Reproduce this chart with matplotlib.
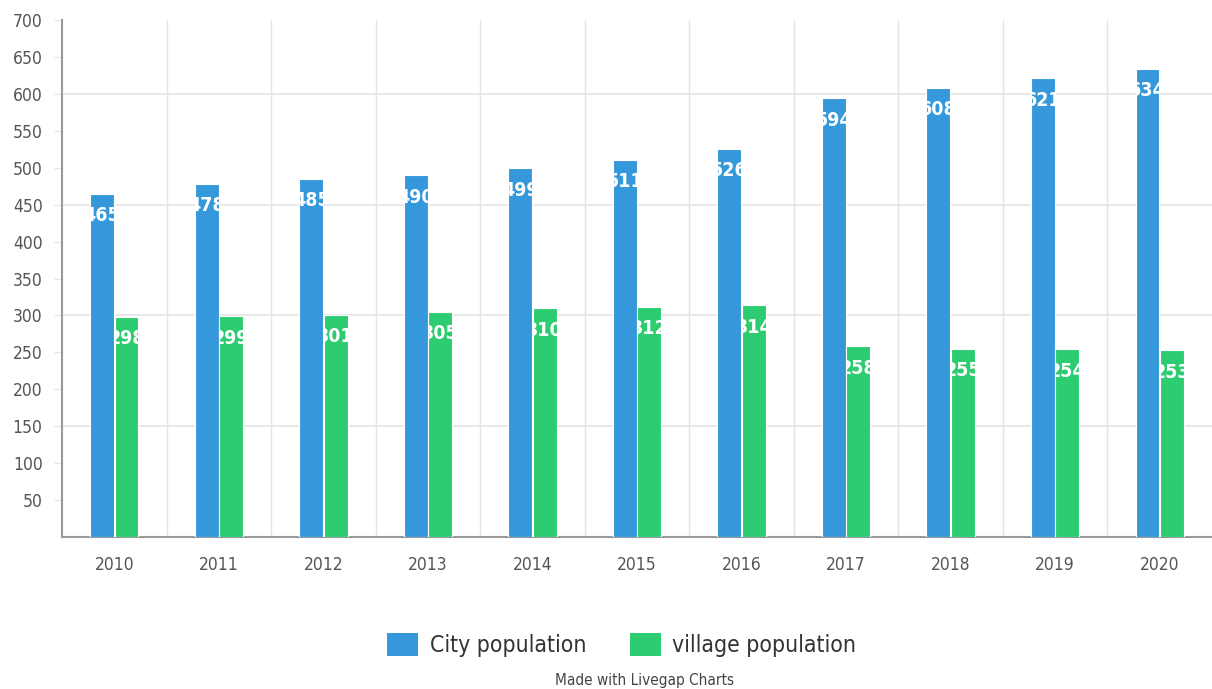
import numpy as np
import matplotlib.pyplot as plt
from matplotlib.patches import Patch

years = ['2010', '2011', '2012', '2013', '2014', '2015', '2016', '2017', '2018', '2019', '2020']
city = [465, 478, 485, 490, 499, 511, 526, 594, 608, 621, 634]
village = [298, 299, 301, 305, 310, 312, 314, 258, 255, 254, 253]

blue = '#3498db'
green = '#2ecc71'
grid_col = '#e4e4e4'
axis_col = '#9a9a9a'
text_col = '#555555'

plt.rcParams['font.family'] = ['DejaVu Sans']
plt.rcParams['font.stretch'] = 'condensed'

fig = plt.figure(figsize=(12.12, 6.89), dpi=100)
ax = fig.add_axes([62 / 1212, (689 - 537) / 689, 1150 / 1212, 517 / 689])

x = np.arange(len(years))
w = 0.228
off = 0.117
b1 = ax.bar(x - off, city, w, color=blue, edgecolor='white', linewidth=0.8, zorder=3)
b2 = ax.bar(x + off, village, w, color=green, edgecolor='white', linewidth=0.8, zorder=3)

# white value labels just inside the bar tops, clipped to the bar
for bars, vals in ((b1, city), (b2, village)):
    for rect, v in zip(bars, vals):
        t = ax.annotate(str(v), (rect.get_x() + rect.get_width() / 2, v),
                        xytext=(0, -9), textcoords='offset points',
                        ha='center', va='top', color='white', fontsize=14,
                        fontweight='bold', zorder=4)
        t.set_clip_path(rect)

ax.set_xlim(-0.5, len(years) - 0.5)
ax.set_ylim(0, 700)

# grid: vertical lines between categories, horizontal every 150
for b in np.arange(0.5, len(years) - 0.5, 1):
    ax.axvline(b, color=grid_col, lw=1, zorder=1)
for g in [150, 300, 450, 600]:
    ax.axhline(g, color=grid_col, lw=1.2, zorder=1)

ax.set_yticks(range(50, 701, 50))
ax.tick_params(axis='y', length=6, color=grid_col, labelsize=12.5,
               labelcolor=text_col, pad=8)
ax.set_xticks(x)
ax.set_xticklabels(years)
ax.tick_params(axis='x', length=0, labelsize=12.5, labelcolor=text_col, pad=14)

for s in ['top', 'right']:
    ax.spines[s].set_visible(False)
ax.spines['left'].set_color(axis_col)
ax.spines['left'].set_linewidth(1.5)
ax.spines['bottom'].set_color(axis_col)
ax.spines['bottom'].set_linewidth(1.5)

handles = [Patch(facecolor=blue, label='City population'),
           Patch(facecolor=green, label='village population')]
fig.legend(handles=handles, loc='center', bbox_to_anchor=(0.513, 1 - 645 / 689),
           ncol=2, frameon=False, fontsize=16.5, handlelength=1.35, handleheight=1.2,
           handletextpad=0.5, columnspacing=1.9, labelcolor='#333333')

fig.text(0.532, 1 - 680 / 689, 'Made with Livegap Charts', ha='center', va='center',
         fontsize=11, color='#444444')

fig.savefig('out.png', dpi=100)
